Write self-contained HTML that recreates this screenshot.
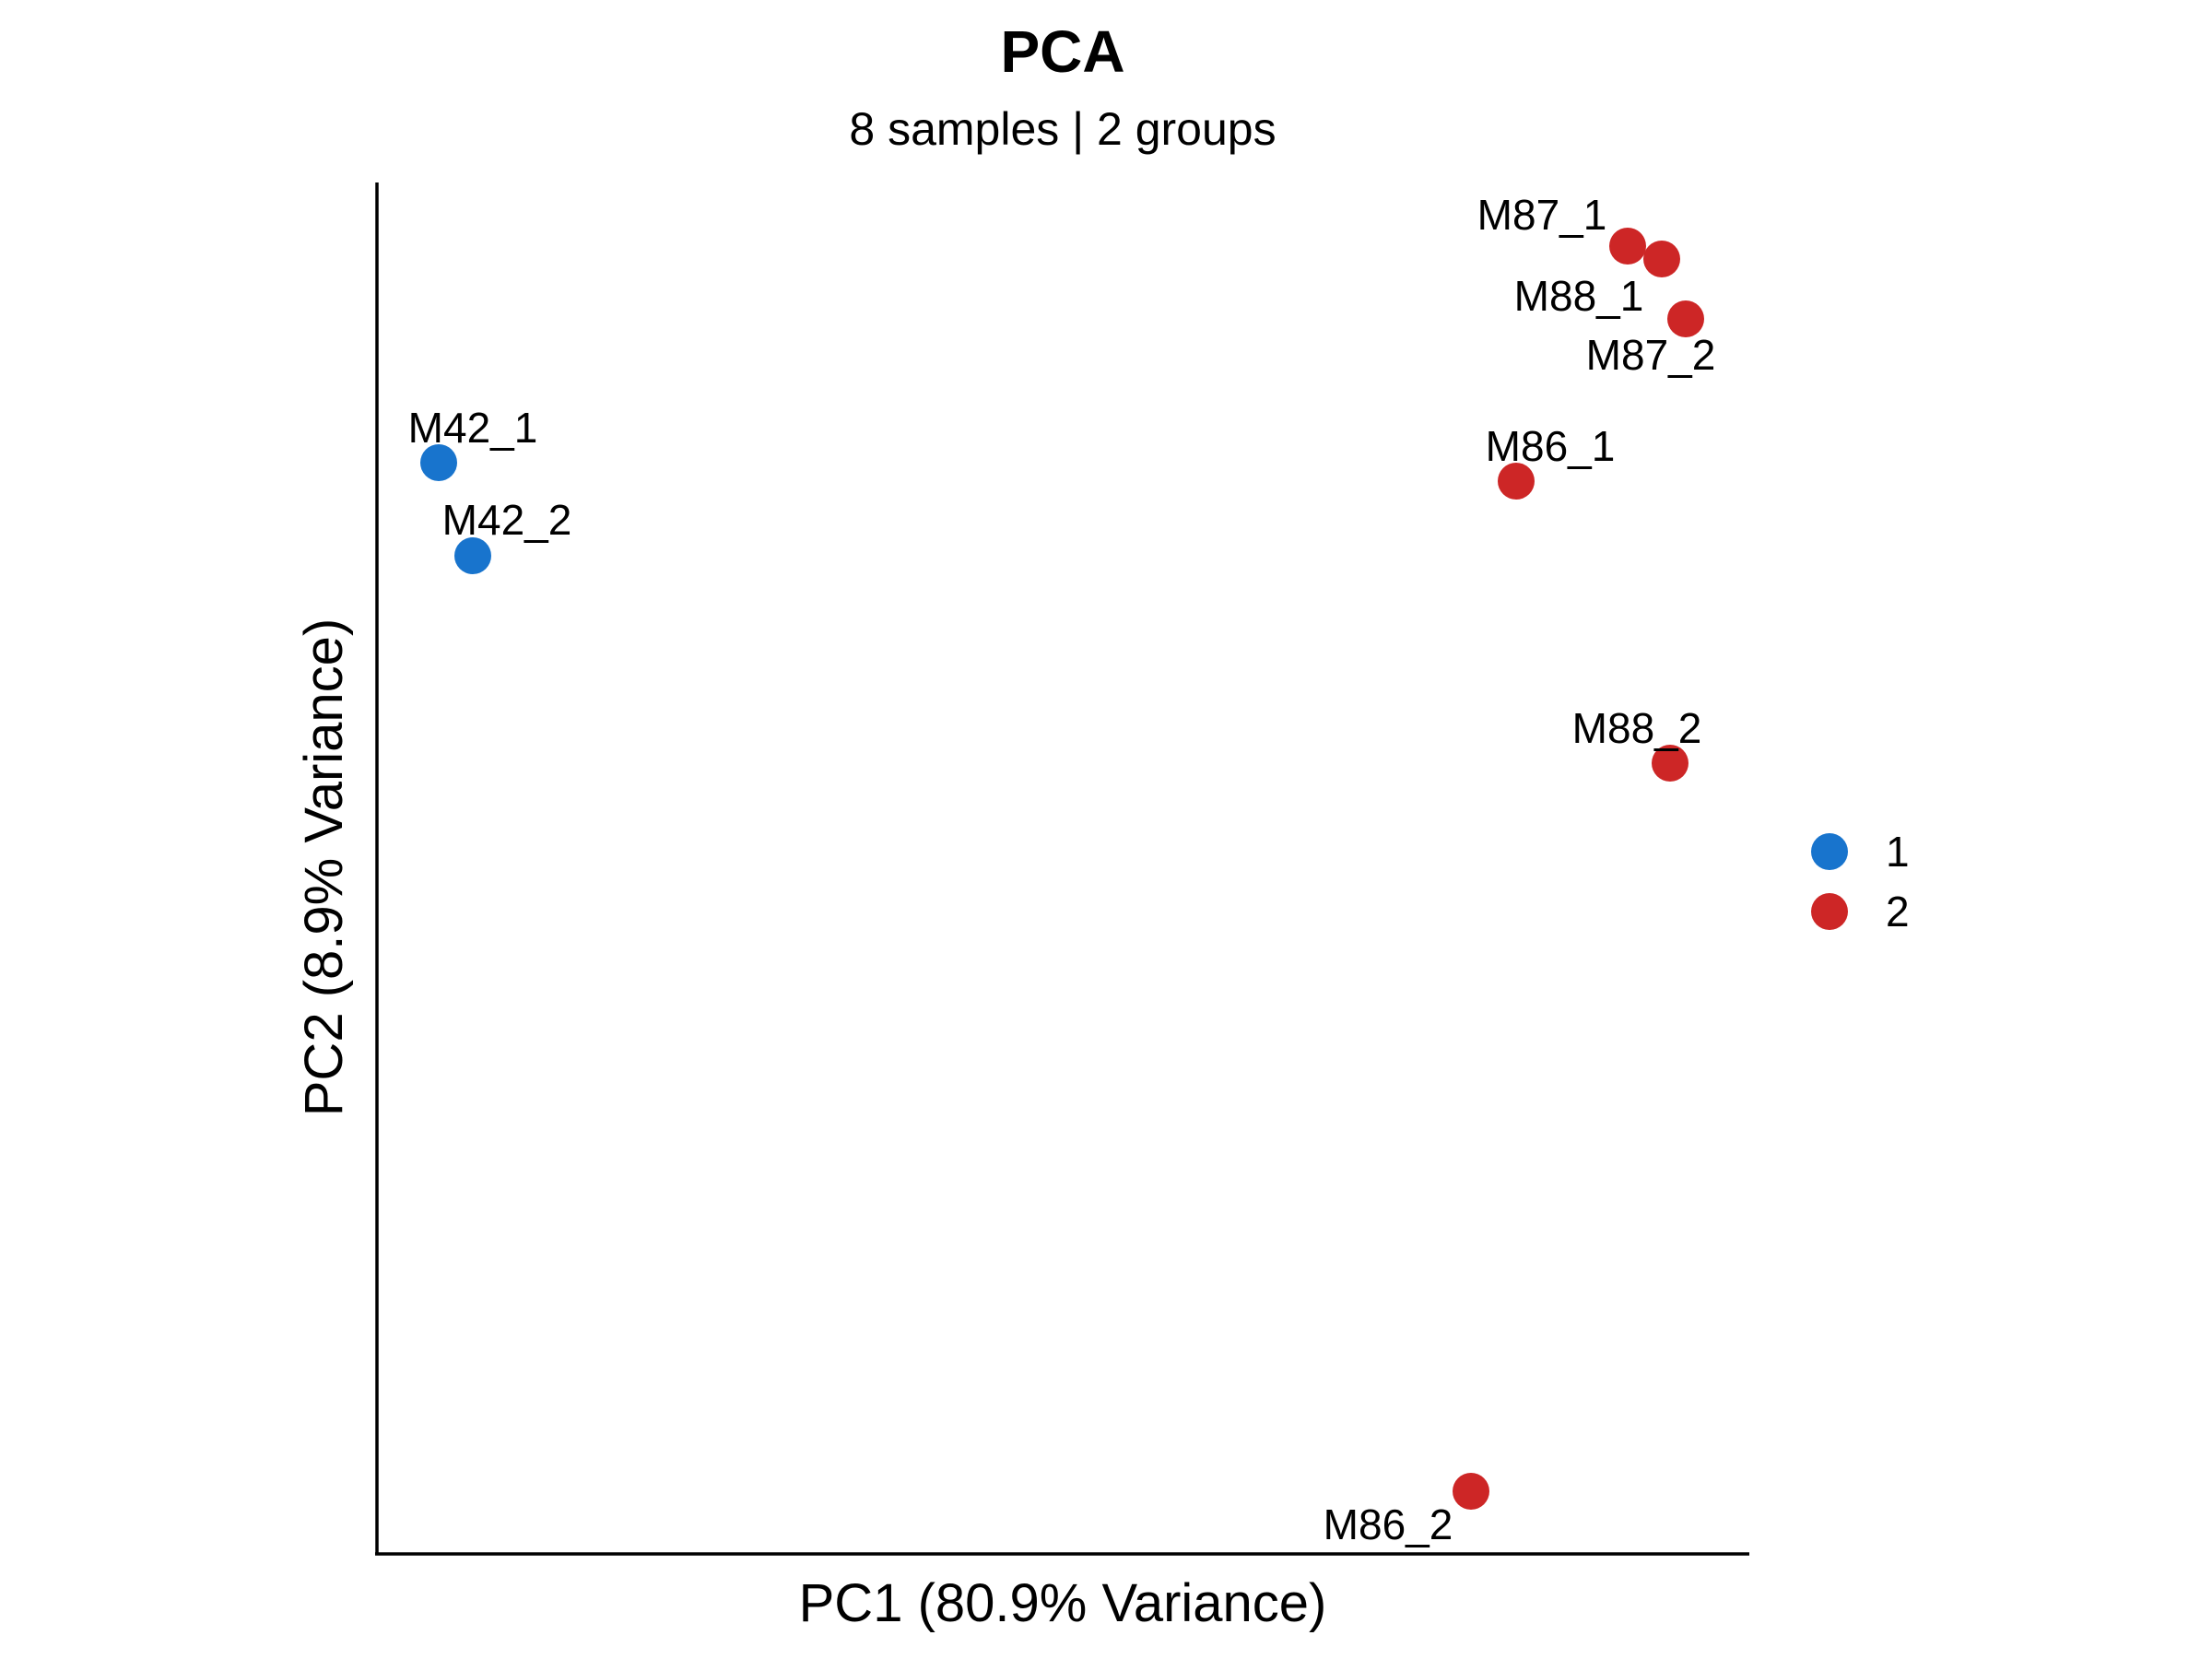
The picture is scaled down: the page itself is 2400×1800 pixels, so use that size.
<!DOCTYPE html>
<html><head><meta charset="utf-8"><style>
html,body{margin:0;padding:0;background:#fff;}
svg{display:block;font-family:"Liberation Sans",sans-serif;}
</style></head><body>
<svg width="2400" height="1800" viewBox="0 0 2400 1800" xmlns="http://www.w3.org/2000/svg">
<rect width="2400" height="1800" fill="#fff"/>
<text x="1153" y="78" font-size="64" font-weight="bold" text-anchor="middle">PCA</text>
<text x="1153" y="157" font-size="50" text-anchor="middle">8 samples | 2 groups</text>
<line x1="409" y1="198" x2="409" y2="1687" stroke="#000" stroke-width="3.5"/>
<line x1="407" y1="1686" x2="1898" y2="1686" stroke="#000" stroke-width="3.5"/>
<text x="1153" y="1759" font-size="58" text-anchor="middle">PC1 (80.9% Variance)</text>
<text transform="translate(371,941) rotate(-90)" font-size="58" text-anchor="middle">PC2 (8.9% Variance)</text>
<g fill="#1874CD">
<circle cx="476" cy="502" r="20"/>
<circle cx="513" cy="603" r="20"/>
</g>
<g fill="#CD2626">
<circle cx="1766" cy="267" r="20"/>
<circle cx="1803" cy="281" r="20"/>
<circle cx="1829" cy="346" r="20"/>
<circle cx="1645" cy="522" r="20"/>
<circle cx="1812" cy="828" r="20"/>
<circle cx="1596" cy="1618" r="20"/>
</g>
<g font-size="46" text-anchor="middle">
<text x="513" y="480">M42_1</text>
<text x="550" y="580">M42_2</text>
<text x="1673" y="249">M87_1</text>
<text x="1713" y="337">M88_1</text>
<text x="1791" y="401">M87_2</text>
<text x="1682" y="500">M86_1</text>
<text x="1776" y="806">M88_2</text>
<text x="1506" y="1670">M86_2</text>
</g>
<circle cx="1985" cy="924" r="20" fill="#1874CD"/>
<circle cx="1985" cy="989" r="20" fill="#CD2626"/>
<text x="2046" y="940" font-size="46">1</text>
<text x="2046" y="1005" font-size="46">2</text>
</svg>
</body></html>
